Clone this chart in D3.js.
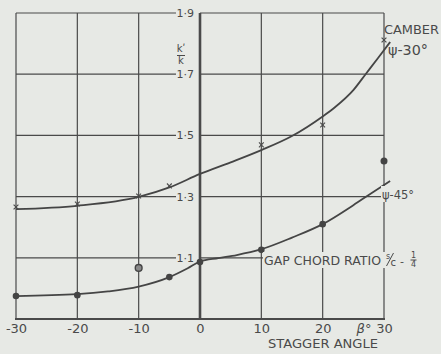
<!DOCTYPE html>
<html><head><meta charset="utf-8">
<script src="https://cdn.jsdelivr.net/npm/d3@7"></script>
<style>
html,body{margin:0;padding:0;background:#e7e9e5;}
svg{display:block;}
text{font-family:"DejaVu Sans",sans-serif;fill:#4a4a4a;}
</style></head>
<body>
<svg id="c" width="441" height="354"></svg>
<script>
// ---- data ----
const xTicks = [-30, -20, -10, 0, 10, 20, 30];
const yTicks = [1.1, 1.3, 1.5, 1.7, 1.9];
const yTickLabels = ["1·1", "1·3", "1·5", "1·7", "1·9"];

// psi = 30 deg (camber) measured points (crosses)
const camberX = [-30, -20, -10, -5, 10, 20, 30];
const camberVal = [1.266, 1.276, 1.302, 1.335, 1.469, 1.534, 1.812];
// psi = 30 deg faired curve
const curve30X = [-30, -20, -10, -5, 0, 5, 10, 15, 20, 22, 25, 27, 29, 31];
const curve30Val = [1.259, 1.27, 1.299, 1.33, 1.374, 1.412, 1.452, 1.498, 1.562, 1.592, 1.648, 1.70, 1.752, 1.805];

// psi = 45 deg measured points (dots)
const psi45X = [-30, -20, -5, 0, 10, 20];
const psi45Val = [0.975, 0.978, 1.037, 1.086, 1.126, 1.21];
// off-curve points
const openX = [-10];
const openVal = [1.067];
const extraX = [30];
const extraVal = [1.416];
// psi = 45 deg faired curve
const curve45X = [-30, -20, -15, -10, -5, -2, 0, 3, 6, 10, 15, 20, 25, 28, 31];
const curve45Val = [0.975, 0.981, 0.99, 1.006, 1.037, 1.066, 1.088, 1.099, 1.109, 1.128, 1.166, 1.21, 1.272, 1.312, 1.351];

// ---- drawing ----
const svg = d3.select("#c");
const x = d3.scaleLinear().domain([-30, 30]).range([16, 384]);
const y = d3.scaleLinear().domain([0.9, 1.9]).range([319, 13]);
const ink = "#4a4a4a";
const bg = "#e7e9e5";

const g = svg.append("g");

// vertical grid lines
g.selectAll("line.vg").data(xTicks).join("line")
  .attr("x1", d => x(d)).attr("x2", d => x(d))
  .attr("y1", y(1.9)).attr("y2", y(0.9))
  .attr("stroke", ink)
  .attr("stroke-width", d => d === 0 ? 2.6 : 1.2);

// horizontal grid lines (broken at the labels left of the y axis)
g.selectAll("line.hgl").data(yTicks).join("line")
  .attr("x1", x(-30)).attr("x2", 176)
  .attr("y1", d => y(d)).attr("y2", d => y(d))
  .attr("stroke", ink).attr("stroke-width", 1.2);
g.selectAll("line.hgr").data(yTicks).join("line")
  .attr("x1", x(0)).attr("x2", x(30))
  .attr("y1", d => y(d)).attr("y2", d => y(d))
  .attr("stroke", ink).attr("stroke-width", 1.2);

// bottom axis line
g.append("line").attr("x1", x(-30) - 1).attr("x2", x(30) + 1)
  .attr("y1", y(0.9)).attr("y2", y(0.9))
  .attr("stroke", ink).attr("stroke-width", 2.2);

// y tick labels
g.selectAll("text.yl").data(yTicks).join("text")
  .attr("x", 194).attr("y", d => y(d) + 4)
  .attr("text-anchor", "end").attr("font-size", 11)
  .text((d, i) => yTickLabels[i]);

// y title k'/k (stacked in one text element)
const kt = g.append("text").attr("x", 181).attr("y", 52).attr("text-anchor", "middle").attr("font-size", 10);
kt.append("tspan").attr("x", 181).text("kʹ");
kt.append("tspan").attr("x", 181).attr("dy", 12).text("k");
g.append("line").attr("x1", 177).attr("x2", 185).attr("y1", 55.5).attr("y2", 55.5)
  .attr("stroke", ink).attr("stroke-width", 1);

// x axis labels via d3 axis
const xa = svg.append("g").attr("transform", `translate(0,${y(0.9)})`)
  .call(d3.axisBottom(x).tickValues(xTicks).tickSize(0).tickPadding(5)
    .tickFormat(d => d < 0 ? "-" + Math.abs(d) : String(d)));
xa.select(".domain").remove();
xa.selectAll("text").attr("font-size", 13).attr("font-family", "DejaVu Sans")
  .attr("fill", ink);

svg.append("text").attr("x", 364).attr("y", 333).attr("text-anchor", "middle")
  .attr("font-size", 13).attr("font-style", "italic").text("β°");
svg.append("text").attr("x", 268).attr("y", 348).attr("font-size", 12.5)
  .attr("textLength", 110).attr("lengthAdjust", "spacingAndGlyphs").text("STAGGER ANGLE");

// curves
const line = d3.line().x(d => x(d[0])).y(d => y(d[1])).curve(d3.curveMonotoneX);
const c30 = curve30X.map((d, i) => [d, curve30Val[i]]);
const c45 = curve45X.map((d, i) => [d, curve45Val[i]]);
svg.append("path").datum(c30).attr("d", line).attr("fill", "none")
  .attr("stroke", "#454545").attr("stroke-width", 1.8);
svg.append("path").datum(c45).attr("d", line).attr("fill", "none")
  .attr("stroke", "#454545").attr("stroke-width", 1.8);

// cross markers
const cr = 2.4;
const crosses = svg.append("g").selectAll("g").data(camberX.map((d, i) => [d, camberVal[i]])).join("g")
  .attr("transform", d => `translate(${x(d[0])},${y(d[1])})`);
crosses.append("line").attr("x1", -cr).attr("y1", -cr).attr("x2", cr).attr("y2", cr)
  .attr("stroke", ink).attr("stroke-width", 1.1);
crosses.append("line").attr("x1", -cr).attr("y1", cr).attr("x2", cr).attr("y2", -cr)
  .attr("stroke", ink).attr("stroke-width", 1.1);

// dot markers
svg.append("g").selectAll("circle").data(psi45X.map((d, i) => [d, psi45Val[i]])).join("circle")
  .attr("cx", d => x(d[0])).attr("cy", d => y(d[1])).attr("r", 3.3).attr("fill", "#444");
svg.append("g").selectAll("circle").data(openX.map((d, i) => [d, openVal[i]])).join("circle")
  .attr("cx", d => x(d[0])).attr("cy", d => y(d[1])).attr("r", 3.4)
  .attr("fill", "#8a8a8a").attr("stroke", "#444").attr("stroke-width", 1.4);
svg.append("g").selectAll("circle").data(extraX.map((d, i) => [d, extraVal[i]])).join("circle")
  .attr("cx", d => x(d[0])).attr("cy", d => y(d[1])).attr("r", 3.5).attr("fill", "#444");

// annotations
svg.append("text").attr("x", 384).attr("y", 34).attr("font-size", 12)
  .attr("textLength", 55).attr("lengthAdjust", "spacingAndGlyphs").text("CAMBER");
svg.append("text").attr("x", 388).attr("y", 55).attr("font-size", 14)
  .attr("textLength", 40).attr("lengthAdjust", "spacingAndGlyphs").text("ψ-30°");
svg.append("rect").attr("x", 381).attr("y", 186).attr("width", 34).attr("height", 16).attr("fill", bg);
svg.append("text").attr("x", 382).attr("y", 199).attr("font-size", 12)
  .attr("textLength", 32).attr("lengthAdjust", "spacingAndGlyphs").text("ψ-45°");

// gap chord ratio label with knockout
svg.append("rect").attr("x", 263).attr("y", 252).attr("width", 156).attr("height", 16).attr("fill", bg);
svg.append("text").attr("x", 264).attr("y", 265).attr("font-size", 13)
  .attr("textLength", 117).attr("lengthAdjust", "spacingAndGlyphs").text("GAP CHORD RATIO");
const fr = svg.append("text").attr("x", 386).attr("y", 265);
fr.append("tspan").attr("x", 386).attr("dy", -6).attr("font-size", 8).text("s");
fr.append("tspan").attr("x", 390.5).attr("dy", 7).attr("font-size", 10).text("c");
fr.append("tspan").attr("x", 400).attr("dy", -1).attr("font-size", 11).text("-");
fr.append("tspan").attr("x", 411).attr("dy", -7).attr("font-size", 8).text("1");
fr.append("tspan").attr("x", 411).attr("dy", 9).attr("font-size", 8).text("4");
svg.append("line").attr("x1", 386.5).attr("y1", 266).attr("x2", 393.5).attr("y2", 253)
  .attr("stroke", ink).attr("stroke-width", 1);
svg.append("line").attr("x1", 410.5).attr("x2", 416.5).attr("y1", 260).attr("y2", 260)
  .attr("stroke", ink).attr("stroke-width", 1);
</script>
</body></html>
